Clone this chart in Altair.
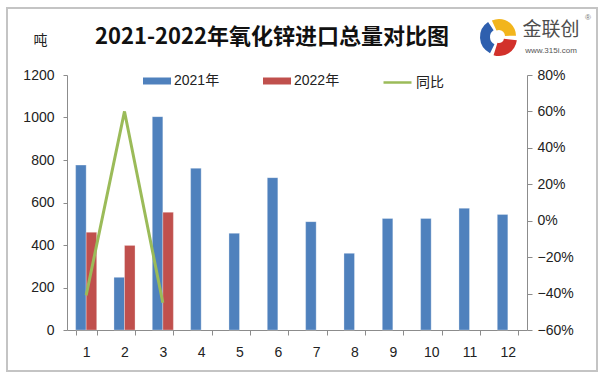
import altair as alt
import pandas as pd

months = [1, 2, 3, 4, 5, 6, 7, 8, 9, 10, 11, 12]
v2021 = [776, 248, 1004, 761, 455, 717, 510, 361, 525, 525, 573, 544]
v2022 = [460, 398, 554]
yoy = [-0.41, 0.60, -0.45]
years = ["2021年", "2022年"]
line_name = "同比"
title_text = "2021-2022年氧化锌进口总量对比图"
unit_text = "吨"

FONT = "Liberation Sans, Noto Sans CJK SC, sans-serif"
CJK = "Noto Sans CJK SC"
AXC = "#8c8c8c"
TXT = "#222222"

rows = []
for m, v in zip(months, v2021):
    rows.append({"month": m, "year": years[0], "value": v})
for m, v in zip(months, v2022):
    rows.append({"month": m, "year": years[1], "value": v})
bars_df = pd.DataFrame(rows)
line_df = pd.DataFrame({"month": months[:len(yoy)], "series": line_name, "yoy": yoy})
one = pd.DataFrame({"k": [0]})

xenc = alt.X(
    "month:O",
    scale=alt.Scale(domain=months, paddingInner=0.45, paddingOuter=0.225),
    axis=alt.Axis(
        title=None, labelAngle=0, tickBand="extent", domainColor=AXC, tickColor=AXC,
        tickSize=5, labelPadding=10, labelFontSize=14, labelFont=FONT, labelColor=TXT,
    ),
)

bars = alt.Chart(bars_df).mark_bar(stroke="white", strokeWidth=0.6, strokeOpacity=0.5).encode(
    x=xenc,
    xOffset=alt.XOffset("year:N", scale=alt.Scale(domain=years)),
    y=alt.Y(
        "value:Q",
        scale=alt.Scale(domain=[0, 1200]),
        axis=alt.Axis(
            values=[0, 200, 400, 600, 800, 1000, 1200], format="d", grid=False,
            domainColor=AXC, tickColor=AXC, tickSize=4, labelPadding=9,
            labelFontSize=14, labelFont=FONT, labelColor=TXT,
            title=unit_text, titleAngle=0, titleX=-27, titleY=-35,
            titleAlign="center", titleBaseline="middle", titleFont=CJK,
            titleFontSize=14, titleFontWeight="normal", titleColor=TXT,
        ),
    ),
    color=alt.Color(
        "year:N",
        scale=alt.Scale(domain=years, range=["#4F81BD", "#C0504D"]),
        legend=alt.Legend(
            orient="none", legendX=76, legendY=-8, direction="horizontal", title=None,
            symbolType="M-1,-0.25H1V0.25H-1Z", symbolSize=784, symbolStrokeWidth=0,
            labelFontSize=14, labelFont=FONT, labelColor=TXT, labelOffset=3,
            columnPadding=43, padding=0,
        ),
    ),
)

line = alt.Chart(line_df).mark_line(strokeWidth=3).encode(
    x=xenc,
    y=alt.Y(
        "yoy:Q",
        scale=alt.Scale(domain=[-0.6, 0.8]),
        axis=alt.Axis(
            orient="right", format=".0%", values=[-0.6, -0.4, -0.2, 0, 0.2, 0.4, 0.6, 0.8],
            grid=False, domainColor=AXC, tickColor=AXC, tickSize=5, labelPadding=5,
            labelFontSize=14, labelFont=FONT, labelColor=TXT, title=None,
        ),
    ),
    color=alt.Color(
        "series:N",
        scale=alt.Scale(domain=[line_name], range=["#9BBB59"]),
        legend=alt.Legend(
            orient="none", legendX=315, legendY=-8, direction="horizontal", title=None,
            symbolType="stroke", symbolSize=784, symbolStrokeWidth=2.5,
            labelFontSize=14, labelFont=FONT, labelColor=TXT, labelOffset=3, padding=0,
        ),
    ),
)

frame = alt.Chart(one).mark_rect(fill=None, stroke="#c4c4c4", strokeWidth=2).encode(
    x=alt.value(-60), x2=alt.value(530), y=alt.value(-67), y2=alt.value(296)
)

title = alt.Chart(one).mark_text(
    text=title_text, font=CJK, fontSize=22, fontWeight="bold", color="#111111",
    align="center", baseline="middle",
).encode(x=alt.value(205), y=alt.value(-38))

LX, LY = 431, -38
logo_blue = alt.Chart(one).mark_arc(
    theta=3.6, theta2=5.7, radius=18, radius2=8, fill="#2E5FAE"
).encode(x=alt.value(LX), y=alt.value(LY))
logo_yellow1 = alt.Chart(one).mark_arc(
    theta=0.0, theta2=1.55, radius=17, radius2=6, fill="#F2B51C"
).encode(x=alt.value(LX + 1), y=alt.value(LY - 1))
logo_yellow2 = alt.Chart(one).mark_arc(
    theta=5.85, theta2=6.2832, radius=17, radius2=6, fill="#F2B51C"
).encode(x=alt.value(LX + 1), y=alt.value(LY - 1))
logo_red = alt.Chart(one).mark_arc(
    theta=1.7, theta2=3.45, radius=18, radius2=5, fill="#D2312B"
).encode(x=alt.value(LX + 1), y=alt.value(LY + 1))
logo_name = alt.Chart(one).mark_text(
    text="金联创", font=CJK, fontSize=19, color="#4d4d4d", align="center", baseline="middle"
).encode(x=alt.value(484), y=alt.value(-45))
logo_url = alt.Chart(one).mark_text(
    text="www.315i.com", font=FONT, fontSize=8, color="#555555", align="center", baseline="middle"
).encode(x=alt.value(484), y=alt.value(-24))
logo_r = alt.Chart(one).mark_text(
    text="®", font=FONT, fontSize=8, color="#777777", align="center", baseline="middle"
).encode(x=alt.value(521), y=alt.value(-57))

chart = alt.layer(
    bars, line, frame, title, logo_blue, logo_yellow1, logo_yellow2, logo_red,
    logo_name, logo_url, logo_r
).resolve_scale(
    y="independent", color="independent"
).properties(
    width=460, height=255,
    autosize=alt.AutoSizeParams(type="none"),
    padding={"left": 67, "top": 75, "right": 78, "bottom": 46},
    background="white",
).configure_view(stroke=None)

chart.save("out.html", embed_options={"renderer": "svg", "actions": False})
